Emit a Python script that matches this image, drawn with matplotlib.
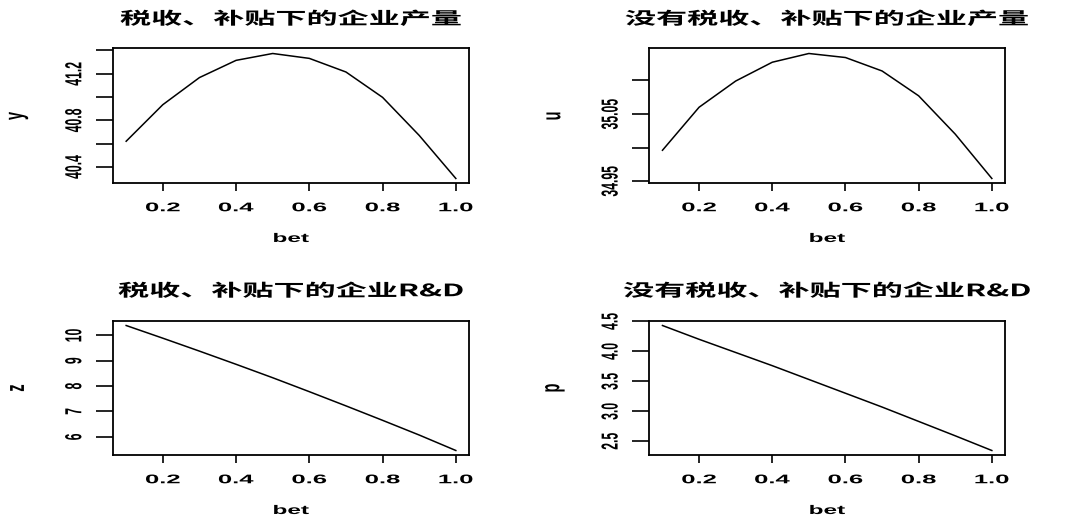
import matplotlib
matplotlib.use("Agg")
import matplotlib.pyplot as plt
from matplotlib.patheffects import AbstractPathEffect
from matplotlib.transforms import Affine2D

# values
bet = [0.1, 0.2, 0.3, 0.4, 0.5, 0.6, 0.7, 0.8, 0.9, 1.0]
y = [40.62, 40.934, 41.167, 41.315, 41.374, 41.332, 41.215, 40.997, 40.67, 40.30]
u = [34.996, 35.060, 35.099, 35.127, 35.140, 35.134, 35.114, 35.077, 35.020, 34.954]
z = [10.39, 9.89, 9.38, 8.86, 8.33, 7.78, 7.22, 6.65, 6.07, 5.46]
p = [4.43, 4.20, 3.98, 3.76, 3.53, 3.30, 3.07, 2.83, 2.59, 2.345]

titles = ["税收、补贴下的企业产量", "没有税收、补贴下的企业产量",
          "税收、补贴下的企业R&D", "没有税收、补贴下的企业R&D"]
ylabels = ["y", "u", "z", "p"]
xlabel = "bet"
xticks = [0.2, 0.4, 0.6, 0.8, 1.0]
xtick_labels = ["0.2", "0.4", "0.6", "0.8", "1.0"]
yticks = [[40.4, 40.6, 40.8, 41.0, 41.2, 41.4],
          [34.95, 35.0, 35.05, 35.1],
          [6, 7, 8, 9, 10],
          [2.5, 3.0, 3.5, 4.0, 4.5]]
ytick_labels = [["40.4", "", "40.8", "", "41.2", ""],
                ["34.95", "", "35.05", ""],
                ["6", "7", "8", "9", "10"],
                ["2.5", "3.0", "3.5", "4.0", "4.5"]]


class Widen(AbstractPathEffect):
    # the reference is a stretched R screenshot: widen glyphs sideways
    def __init__(self, sx):
        super().__init__()
        self.sx = sx

    def draw_path(self, renderer, gc, tpath, affine, rgbFace=None):
        bb = tpath.get_extents(affine)
        cx = bb.x0 + bb.width / 2
        t = affine + Affine2D().translate(-cx, 0).scale(self.sx, 1).translate(cx, 0)
        renderer.draw_path(gc, tpath, t, rgbFace)


plt.rcParams['font.family'] = ['Liberation Sans', 'Noto Sans CJK SC']

fig = plt.figure(figsize=(10.75, 5.22), dpi=100)
boxes = [(0.1051, 0.6485, 0.3312, 0.2586), (0.6040, 0.6485, 0.3309, 0.2586),
         (0.1051, 0.1274, 0.3312, 0.2586), (0.6040, 0.1274, 0.3309, 0.2586)]
series = [y, u, z, p]

for i, box in enumerate(boxes):
    ax = fig.add_axes(box)
    vals = series[i]
    ax.plot(bet, vals, color='black', lw=1.1)
    ax.set_xticks(xticks, xtick_labels)
    ax.set_yticks(yticks[i], ytick_labels[i])
    # R style 4% padding
    xpad = 0.04 * (max(bet) - min(bet))
    ypad = 0.04 * (max(vals) - min(vals))
    ax.set_xlim(min(bet) - xpad, max(bet) + xpad)
    ax.set_ylim(min(vals) - ypad, max(vals) + ypad)

    for s in ax.spines.values():
        s.set_linewidth(1.3)
    ax.tick_params(axis='x', length=6, width=1.2, pad=7.5, labelsize=9)
    ax.tick_params(axis='y', length=11.9, width=1.2, pad=11.5, labelsize=8.8,
                   labelrotation=90)
    for lab in ax.get_xticklabels():
        lab.set_fontweight('bold')
        lab.set_path_effects([Widen(2.05)])
    for lab in ax.get_yticklabels():
        lab.set_va('center')
        lab.set_fontweight('bold')
        lab.set_path_effects([Widen(1.9)])

    ax.set_xlabel(xlabel, fontsize=9, fontweight='bold', va='center')
    ax.xaxis.set_label_coords(0.5, -0.411)
    ax.xaxis.label.set_path_effects([Widen(1.95)])
    ax.set_ylabel(ylabels[i], fontsize=10.5, fontweight='bold', va='center')
    ax.yaxis.set_label_coords(-0.27, 0.5)
    ax.yaxis.label.set_path_effects([Widen(1.8)])

    t = ax.set_title(titles[i], fontsize=12.3, fontweight='bold',
                     family=['Noto Sans CJK SC', 'DejaVu Sans'],
                     y=1.217, pad=0, va='center')
    t.set_path_effects([Widen(1.82)])

fig.savefig("out.png", dpi=100)
